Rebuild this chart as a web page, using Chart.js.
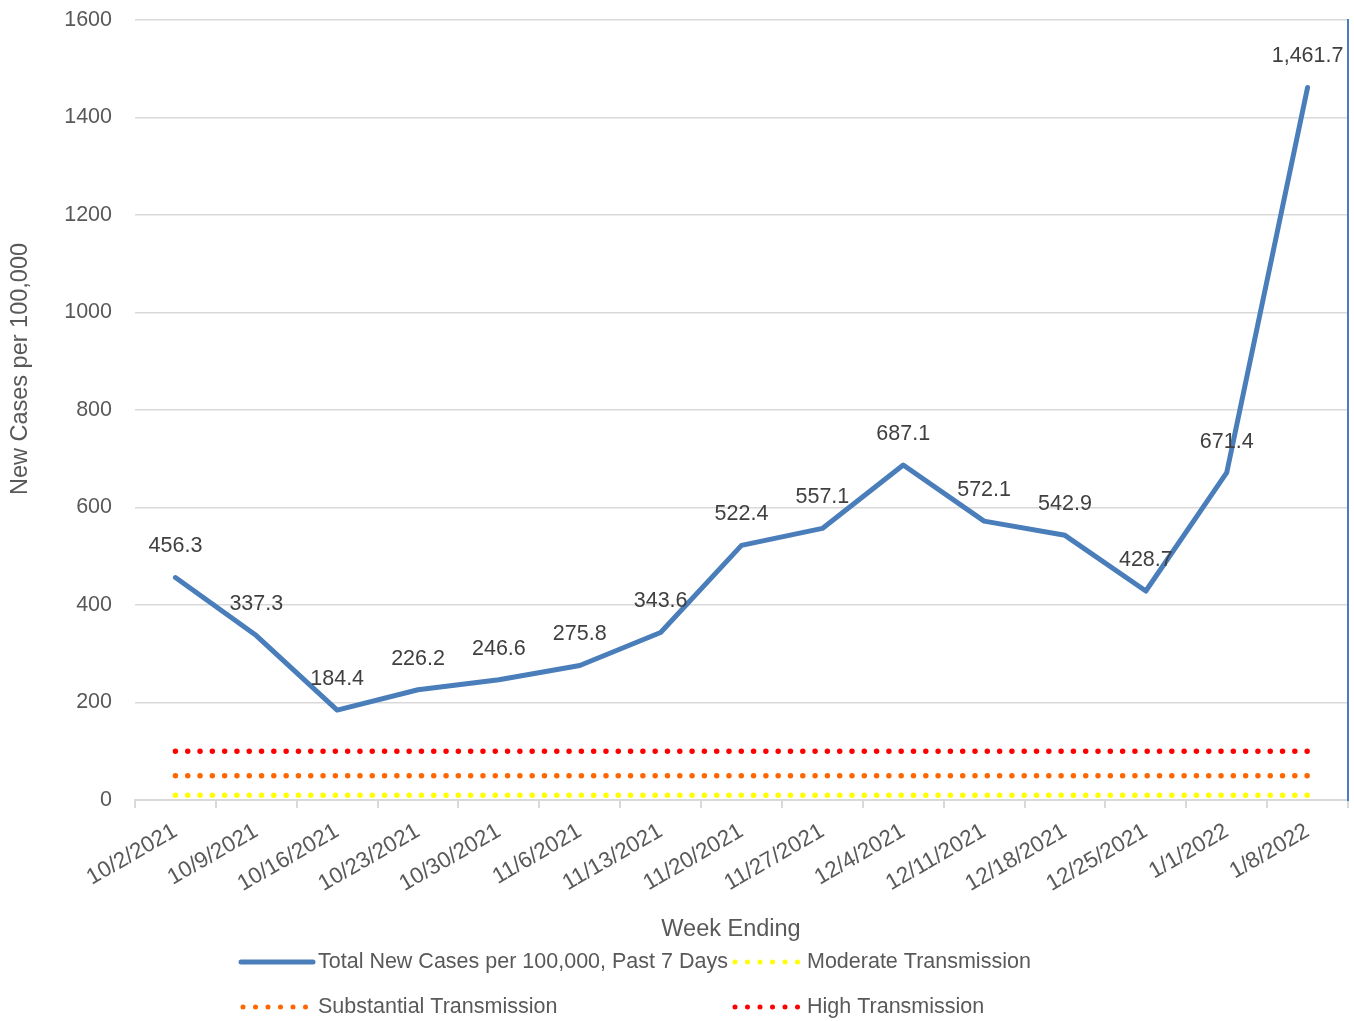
<!DOCTYPE html>
<html><head><meta charset="utf-8">
<script src="https://cdn.jsdelivr.net/npm/chart.js@4/dist/chart.umd.min.js"></script>
<style>html,body{margin:0;padding:0;background:#fff;}#wrap{width:1354px;height:1021px;position:relative;}</style>
</head><body><div id="wrap"><canvas id="c" width="1354" height="1021"></canvas></div>
<script>
const weeks = ["10/2/2021","10/9/2021","10/16/2021","10/23/2021","10/30/2021","11/6/2021","11/13/2021","11/20/2021","11/27/2021","12/4/2021","12/11/2021","12/18/2021","12/25/2021","1/1/2022","1/8/2022"];
const totalCases = [456.3, 337.3, 184.4, 226.2, 246.6, 275.8, 343.6, 522.4, 557.1, 687.1, 572.1, 542.9, 428.7, 671.4, 1461.7];
const moderate = [10,10,10,10,10,10,10,10,10,10,10,10,10,10,10];
const substantial = [50,50,50,50,50,50,50,50,50,50,50,50,50,50,50];
const high = [100,100,100,100,100,100,100,100,100,100,100,100,100,100,100];
const seriesNames = ["Total New Cases per 100,000, Past 7 Days","Moderate Transmission","Substantial Transmission","High Transmission"];
const xTitle = "Week Ending";
const yTitle = "New Cases per 100,000";

const FONT = '"Liberation Sans", Arial, sans-serif';
const GREY = '#595959';
const BLUE = '#4a7ebb';

function fmt(v){ return v.toLocaleString('en-US',{minimumFractionDigits:1,maximumFractionDigits:1}); }

const annot = {
  id:'annot',
  afterDatasetsDraw(chart){
    const ctx = chart.ctx;
    const meta = chart.getDatasetMeta(0);
    ctx.save();
    ctx.font = '21.5px ' + FONT;
    ctx.fillStyle = '#404040';
    ctx.textAlign = 'center';
    ctx.textBaseline = 'middle';
    meta.data.forEach((p,i)=>{ ctx.fillText(fmt(totalCases[i]), p.x, p.y - 31); });
    ctx.restore();
  },
  afterDraw(chart){
    const ctx = chart.ctx;
    const ds = chart.data.datasets;
    ctx.save();
    ctx.fillStyle = GREY;
    ctx.font = '23.5px ' + FONT;
    ctx.textAlign = 'center';
    ctx.textBaseline = 'middle';
    ctx.fillText(xTitle, 731, 930);
    ctx.translate(21, 369);
    ctx.rotate(-Math.PI/2);
    ctx.fillText(yTitle, 0, 0);
    ctx.restore();

    const items = [
      {ds:0, x1:241, x2:313, tx:318, y:962},
      {ds:1, x1:735, x2:798, tx:807, y:962},
      {ds:2, x1:243, x2:306, tx:318, y:1007},
      {ds:3, x1:735, x2:798, tx:807, y:1007}
    ];
    ctx.save();
    items.forEach(it=>{
      const d = ds[it.ds];
      ctx.beginPath();
      ctx.strokeStyle = d.borderColor;
      ctx.lineWidth = 5;
      ctx.lineCap = 'round';
      if (d.borderDash && d.borderDash.length) ctx.setLineDash([0.001, 12.5]); else ctx.setLineDash([]);
      ctx.moveTo(it.x1, it.y); ctx.lineTo(it.x2, it.y); ctx.stroke();
      ctx.setLineDash([]);
      ctx.fillStyle = GREY;
      ctx.font = '21.5px ' + FONT;
      ctx.textAlign = 'left';
      ctx.textBaseline = 'middle';
      ctx.fillText(d.label, it.tx, it.y);
    });
    ctx.restore();
  }
};

const dotted = [0.001, 12.3];
new Chart(document.getElementById('c'), {
  type:'line',
  data:{
    labels: weeks,
    datasets:[
      {label:seriesNames[0], data:totalCases, borderColor:BLUE, borderWidth:5, pointRadius:0, tension:0, borderCapStyle:'round', borderJoinStyle:'round', order:0},
      {label:seriesNames[1], data:moderate, borderColor:'#ffff00', borderWidth:5.5, pointRadius:0, borderDash:dotted, borderCapStyle:'round', order:1},
      {label:seriesNames[2], data:substantial, borderColor:'#ff6600', borderWidth:5.5, pointRadius:0, borderDash:dotted, borderCapStyle:'round', order:2},
      {label:seriesNames[3], data:high, borderColor:'#ff0000', borderWidth:5.5, pointRadius:0, borderDash:dotted, borderCapStyle:'round', order:3}
    ]
  },
  options:{
    responsive:false, animation:false, devicePixelRatio:1,
    layout:{padding:{top:20,right:6,left:0,bottom:0}},
    plugins:{legend:{display:false}, tooltip:{enabled:false}},
    scales:{
      x:{
        type:'category', offset:true,
        grid:{display:true, drawOnChartArea:false, drawTicks:true, tickLength:8, offset:true, color:'#d9d9d9', lineWidth:2},
        border:{display:true, color:'#d9d9d9', width:2},
        ticks:{color:GREY, font:{family:FONT, size:22.5}, minRotation:30, maxRotation:30, autoSkip:false, padding:10},
        afterFit(s){ s.height = 221; }
      },
      y:{
        min:0, max:1600,
        ticks:{stepSize:200, color:GREY, font:{family:FONT, size:21.5}, padding:23, callback:(v)=>String(v)},
        grid:{color:'#d9d9d9', lineWidth:1.5, drawTicks:false},
        border:{display:false},
        afterFit(s){ s.width = 135; s.paddingTop = 0; s.paddingBottom = 0; }
      },
      y2:{
        position:'right', min:0, max:1600,
        grid:{drawOnChartArea:false, drawTicks:false},
        ticks:{display:false},
        border:{display:true, color:BLUE, width:2},
        afterFit(s){ s.width = 0; s.paddingTop = 0; s.paddingBottom = 0; }
      }
    }
  },
  plugins:[annot]
});
</script></body></html>
